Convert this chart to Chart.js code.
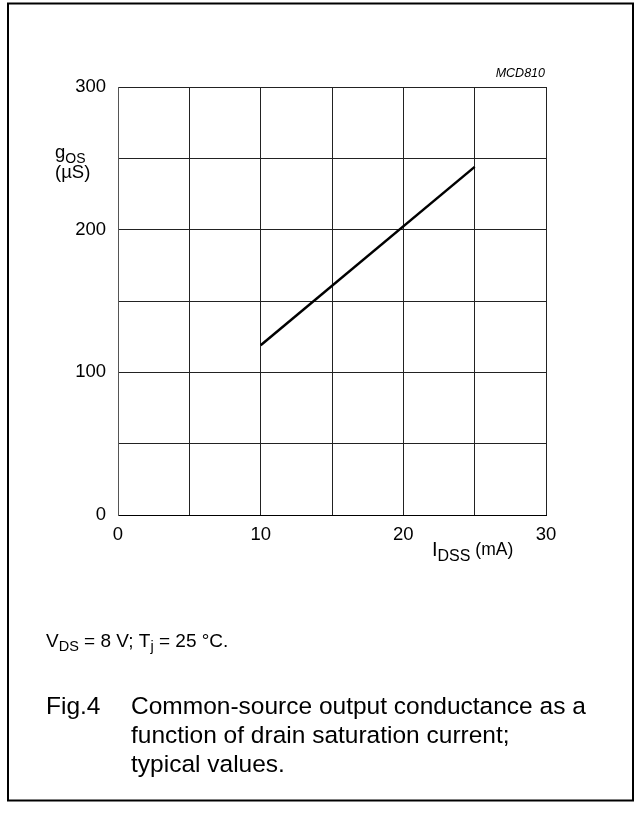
<!DOCTYPE html>
<html>
<head>
<meta charset="utf-8">
<script src="https://cdn.jsdelivr.net/npm/chart.js@4.4.1/dist/chart.umd.min.js"></script>
<style>
  html, body { margin: 0; padding: 0; background: #fff; }
  #chart { display: block; }
</style>
</head>
<body>
<canvas id="chart" width="641" height="815"></canvas>
<script>
// drain saturation current (mA) vs output conductance (uS)
const idss = [10, 25];
const gos = [119, 244];
const xTickLabels = [0, 10, 20, 30];
const yTickLabels = [0, 100, 200, 300];

const FONT = "'Liberation Sans', Arial, Helvetica, sans-serif";

// text around the plot: axis titles, conditions, caption, frame
const annotations = {
    id: 'annotations',
    afterDraw(chart) {
        const ctx = chart.ctx;
        ctx.save();
        ctx.fillStyle = '#000';
        ctx.strokeStyle = '#000';
        ctx.textBaseline = 'alphabetic';
        ctx.textAlign = 'left';

        // outer frame
        ctx.lineWidth = 2;
        ctx.strokeRect(8, 3.5, 625, 797);

        // figure code
        ctx.font = 'italic 12.5px ' + FONT;
        ctx.textAlign = 'right';
        ctx.fillText('MCD810', 545, 77);
        ctx.textAlign = 'left';

        // helper for text with subscripts
        const runs = (x, y, parts) => {
            parts.forEach(p => {
                ctx.font = p.size + 'px ' + FONT;
                ctx.fillText(p.t, x, y + (p.dy || 0));
                x += ctx.measureText(p.t).width;
            });
        };

        // y title
        runs(55, 158, [{t: 'g', size: 18.5}, {t: 'OS', size: 14, dy: 5}]);
        runs(55, 178, [{t: '(\u00b5S)', size: 18.5}]);

        // x title
        runs(432, 556, [{t: 'I', size: 20}, {t: 'DSS', size: 16, dy: 5}, {t: ' (mA)', size: 17.5, dy: -1}]);

        // conditions
        runs(46, 647, [
            {t: 'V', size: 19}, {t: 'DS', size: 14.5, dy: 4},
            {t: ' = 8 V; T', size: 19}, {t: 'j', size: 14.5, dy: 4},
            {t: ' = 25 \u00b0C.', size: 19}
        ]);

        // caption
        ctx.font = '24.5px ' + FONT;
        ctx.fillText('Fig.4', 46, 714);
        ctx.fillText('Common-source output conductance as a', 131, 714);
        ctx.fillText('function of drain saturation current;', 131, 743);
        ctx.fillText('typical values.', 131, 772);
        ctx.restore();
    }
};

const ctx = document.getElementById('chart').getContext('2d');
new Chart(ctx, {
    type: 'scatter',
    data: {
        datasets: [{
            data: idss.map((x, i) => ({x: x, y: gos[i]})),
            showLine: true,
            borderColor: '#000',
            borderWidth: 2.5,
            pointRadius: 0,
            fill: false
        }]
    },
    options: {
        responsive: false,
        animation: false,
        layout: {
            padding: {left: 0, top: 87, right: 95, bottom: 259}
        },
        plugins: {
            legend: {display: false},
            tooltip: {enabled: false}
        },
        scales: {
            x: {
                type: 'linear',
                min: 0,
                max: 30,
                afterFit: s => { s.height = 41; },
                ticks: {
                    stepSize: 5,
                    padding: 9,
                    color: '#000',
                    font: {family: FONT, size: 18.5},
                    maxRotation: 0,
                    autoSkip: false,
                    callback: v => xTickLabels.includes(v) ? String(v) : ''
                },
                grid: {color: '#222', lineWidth: 1, drawTicks: false},
                border: {color: '#000', width: 1}
            },
            y: {
                type: 'linear',
                min: 0,
                max: 300,
                afterFit: s => { s.width = 118; },
                ticks: {
                    stepSize: 50,
                    padding: 12,
                    color: '#000',
                    font: {family: FONT, size: 18.5},
                    autoSkip: false,
                    callback: v => yTickLabels.includes(v) ? String(v) : ''
                },
                grid: {color: '#222', lineWidth: 1, drawTicks: false},
                border: {color: '#555', width: 1}
            }
        }
    },
    plugins: [annotations]
});
</script>
</body>
</html>
